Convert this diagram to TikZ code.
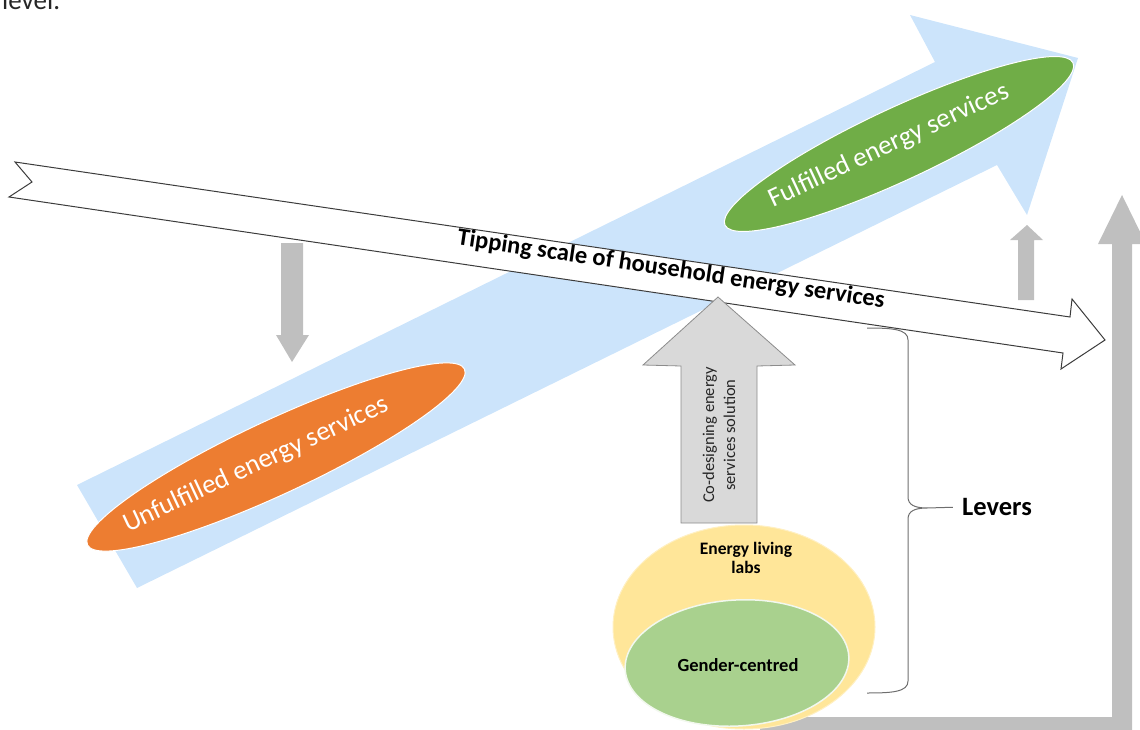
\documentclass[tikz,border=0pt]{standalone}
\usepackage{fontspec}
\setmainfont{Carlito}
\usetikzlibrary{shapes.geometric}
\definecolor{bluearrow}{RGB}{204,228,251}
\definecolor{orangeell}{RGB}{237,125,49}
\definecolor{greenell}{RGB}{112,173,71}
\definecolor{yellowell}{RGB}{255,230,153}
\definecolor{lightgreen}{RGB}{169,209,142}
\definecolor{grayarrow}{RGB}{191,191,191}
\definecolor{grayfill}{RGB}{217,217,217}
\definecolor{grayedge}{RGB}{140,140,140}
\definecolor{braceclr}{RGB}{110,110,110}
\definecolor{outline}{RGB}{60,60,60}
\begin{document}
\begin{tikzpicture}[x=1pt,y=-1pt,
  bigell/.style={ellipse, draw=white, line width=1pt, inner sep=0pt},
  elltxt/.style={inner sep=0pt, text=white, rotate=25, font=\fontsize{27}{31}\selectfont},
  grayshape/.style={fill=grayarrow},
  lbl/.style={inner sep=0pt, align=center}]
\useasboundingbox (0,0) rectangle (1140,730);
\clip (0,0) rectangle (1140,730);

% top-left fragment text
\node[anchor=base west, inner sep=0pt, text=black!85, font=\fontsize{27}{30}\selectfont] (lvl) at (2,10) {level.};

% blue arrow
\fill[bluearrow] (77,485) -- (935,62) -- (910,15) -- (1078,58) -- (1027,215) -- (997,165) -- (137,588) -- cycle;

% ellipses on blue arrow
\node[bigell, fill=orangeell, minimum width=416pt, minimum height=74pt, rotate=25] (unf) at (276,457) {};
\node[elltxt] (unftxt) at (256,465) {Unfulfilled energy services};
\node[bigell, fill=greenell, minimum width=384pt, minimum height=72pt, rotate=25] (ful) at (899,144) {};
\node[elltxt] (fultxt) at (889,146) {Fulfilled energy services};

% tipping scale arrow
\draw[outline, fill=white, line width=1pt, line join=miter] (15,162) -- (32,182) -- (9,197) -- (1063,353) -- (1061,369) -- (1105,340) -- (1072,299) -- (1070,317) -- cycle;
\node[lbl, rotate=-8.4, font=\bfseries\fontsize{24.5}{28}\selectfont] (tip) at (671,270) {Tipping scale of household energy services};

% gray arrows
\fill[grayshape] (281,243) -- (303,243) -- (303,335) -- (309,335) -- (292,362) -- (276,335) -- (281,335) -- cycle;
\fill[grayshape] (1018,300) -- (1018,240) -- (1010,240) -- (1027,225) -- (1043,240) -- (1034,240) -- (1034,300) -- cycle;
\fill[grayshape] (760,717) -- (1112,717) -- (1112,244) -- (1098,244) -- (1122,195) -- (1146,244) -- (1132,244) -- (1132,737) -- (760,737) -- cycle;

% co-designing arrow
\draw[grayedge, fill=grayfill, line width=0.8pt] (681,523) -- (681,366) -- (643,365) -- (718,297) -- (795,365) -- (757,366) -- (757,523) -- cycle;
\node[lbl, rotate=90, text=black!85, font=\fontsize{16.5}{21}\selectfont] (codes) at (719,435) {Co-designing energy\\services solution};

% living labs ellipses
\node[ellipse, fill=yellowell, draw=yellowell!60!white, line width=1pt, minimum width=262pt, minimum height=204pt, inner sep=0pt] (lab) at (744,627) {};
\node[ellipse, fill=lightgreen, draw=white!85!lightgreen, line width=1.5pt, minimum width=224pt, minimum height=126pt, rotate=3.5, inner sep=0pt] (gen) at (737,663) {};
\node[lbl, font=\bfseries\fontsize{17.5}{18.5}\selectfont] (labtxt) at (746,558) {Energy living\\labs};
\node[lbl, font=\bfseries\fontsize{18.5}{20}\selectfont] (gentxt) at (738,665) {Gender-centred};

% brace and Levers
\draw[braceclr, line width=1pt] (867,328) .. controls (892,328) and (908,329) .. (908,340) -- (908,497) .. controls (908,505) and (915,508) .. (927,508) .. controls (915,508) and (908,511) .. (908,519) -- (908,681) .. controls (908,692) and (892,693) .. (867,693);
\coordinate (bt) at (927,508);
\node[lbl, font=\bfseries\fontsize{26.5}{30}\selectfont] (lev) at (997,507) {Levers};
\draw[braceclr, line width=1pt, shorten >=9pt] (bt) -- (lev.west);
\end{tikzpicture}
\end{document}
